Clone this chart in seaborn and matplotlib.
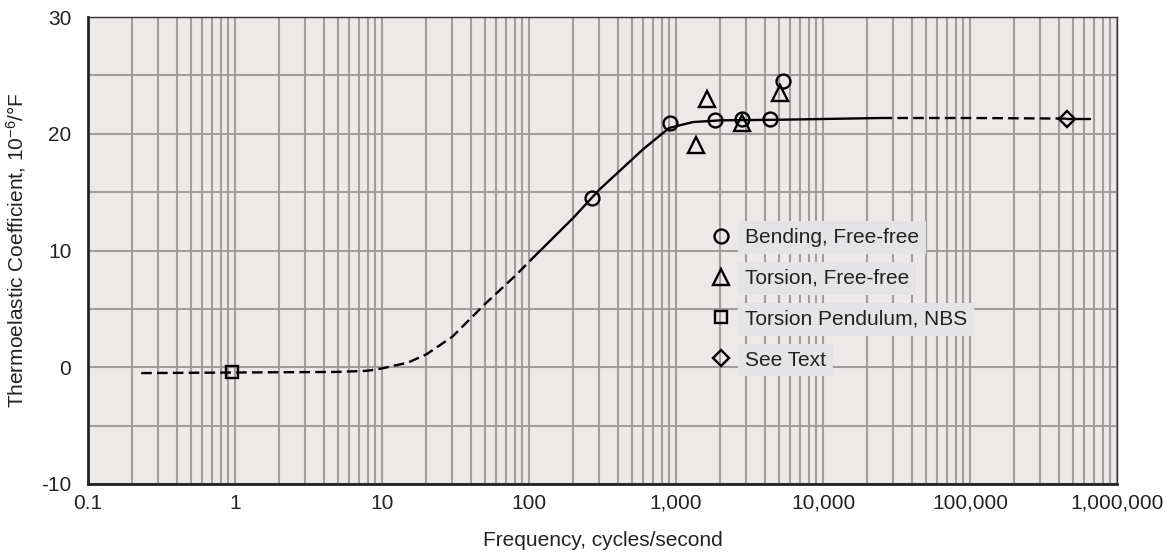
import matplotlib
matplotlib.use("Agg")
import pandas as pd
import seaborn as sns
import matplotlib.pyplot as plt
from matplotlib.ticker import FixedLocator, LogLocator, MultipleLocator, NullFormatter

# measured points
bend_f = [270, 910, 1840, 2800, 4350, 5350]
bend_c = [14.5, 20.9, 21.2, 21.3, 21.3, 24.5]
tors_f = [1370, 1620, 2800, 5100]
tors_c = [19.0, 23.0, 20.9, 23.5]
pend_f = [0.95]
pend_c = [-0.4]
text_f = [457000]
text_c = [21.3]

# faired curve
curve_f = [0.23, 1, 5, 8, 10, 15, 20, 30, 50, 80, 105,
           200, 300, 600, 900, 1300, 2000, 5000, 25000,
           100000, 457000, 655000]
curve_c = [-0.5, -0.45, -0.4, -0.3, -0.1, 0.4, 1.1, 2.6, 5.4, 7.8, 9.3,
           12.8, 15.2, 18.7, 20.5, 21.0, 21.15, 21.2, 21.35,
           21.35, 21.3, 21.3]
# index ranges of the curve pieces and whether each is dashed
pieces = [(0, 10, True), (10, 18, False), (18, 20, True), (20, 21, False)]

xticks = [0.1, 1, 10, 100, 1000, 10000, 100000, 1000000]
xlabels = ["0.1", "1", "10", "100", "1,000", "10,000", "100,000", "1,000,000"]
yticks = [-10, 0, 10, 20, 30]
ylabels = ["-10", "0", "10", "20", "30"]

sns.set_theme(style="white")
plt.rcParams["font.family"] = ["Liberation Sans", "DejaVu Sans"]
plt.rcParams["mathtext.fontset"] = "custom"
plt.rcParams["mathtext.rm"] = "Liberation Sans"
plt.rcParams["mathtext.default"] = "rm"
plt.rcParams["font.size"] = 15

fig = plt.figure(figsize=(11.66, 5.56), dpi=100)
ax = fig.add_axes([0.0755, 0.1295, 0.8825, 0.8399])
ax.set_facecolor("#ede9e8")

curve = pd.DataFrame({"f": curve_f, "c": curve_c})
for i0, i1, dashed in pieces:
    seg = curve.iloc[i0:i1 + 1]
    sns.lineplot(data=seg, x="f", y="c", ax=ax, color="black", lw=1.7,
                 estimator=None, sort=False, zorder=3,
                 linestyle=(0, (4.5, 2.2)) if dashed else "-")

mk = dict(linestyle="none", color="black", mfc="none", mec="black",
          mew=1.7, estimator=None, ax=ax, zorder=4)
sns.lineplot(x=bend_f, y=bend_c, marker="o", ms=10, label="Bending, Free-free", **mk)
sns.lineplot(x=tors_f, y=tors_c, marker="^", ms=11, label="Torsion, Free-free", **mk)
sns.lineplot(x=pend_f, y=pend_c, marker="s", ms=9, label="Torsion Pendulum, NBS", **mk)
sns.lineplot(x=text_f, y=text_c, marker="D", ms=8.5, label="See Text", **mk)

ax.set_xscale("log")
ax.set_xlim(0.1, 1000000)
ax.set_ylim(-10, 30)
ax.xaxis.set_major_locator(FixedLocator(xticks))
ax.set_xticklabels(xlabels)
ax.xaxis.set_minor_locator(LogLocator(base=10, subs=range(2, 10), numticks=50))
ax.xaxis.set_minor_formatter(NullFormatter())
ax.yaxis.set_major_locator(FixedLocator(yticks))
ax.set_yticklabels(ylabels)
ax.yaxis.set_minor_locator(MultipleLocator(5))

ax.grid(which="both", color="#a39c9c", lw=1.5, zorder=0)
ax.set_axisbelow(True)
ax.tick_params(which="both", length=0, labelsize=15, colors="#222222")
ax.tick_params(axis="x", pad=7)
ax.tick_params(axis="y", pad=12)

for side in ["left", "bottom"]:
    ax.spines[side].set_linewidth(2)
    ax.spines[side].set_color("#222222")
for side in ["top", "right"]:
    ax.spines[side].set_linewidth(1)
    ax.spines[side].set_color("#333333")

ax.set_xlabel("Frequency, cycles/second", fontsize=15, color="#222222", labelpad=13)
ax.set_ylabel("Thermoelastic Coefficient, 10$^{-6}$/°F", fontsize=15,
              color="#222222")
ax.yaxis.set_label_coords(-0.058, 0.5)

leg = ax.legend(loc="upper left", bbox_to_anchor=(0.6094, 0.590),
                bbox_transform=fig.transFigure, frameon=False, fontsize=15,
                borderpad=0, borderaxespad=0, handlelength=1.0,
                handletextpad=0.65, labelspacing=1.05)
for t in leg.get_texts():
    t.set_color("#222222")
    t.set_bbox(dict(facecolor="#e4e4e6", edgecolor="none", pad=5))

fig.savefig("out.png", dpi=100)
